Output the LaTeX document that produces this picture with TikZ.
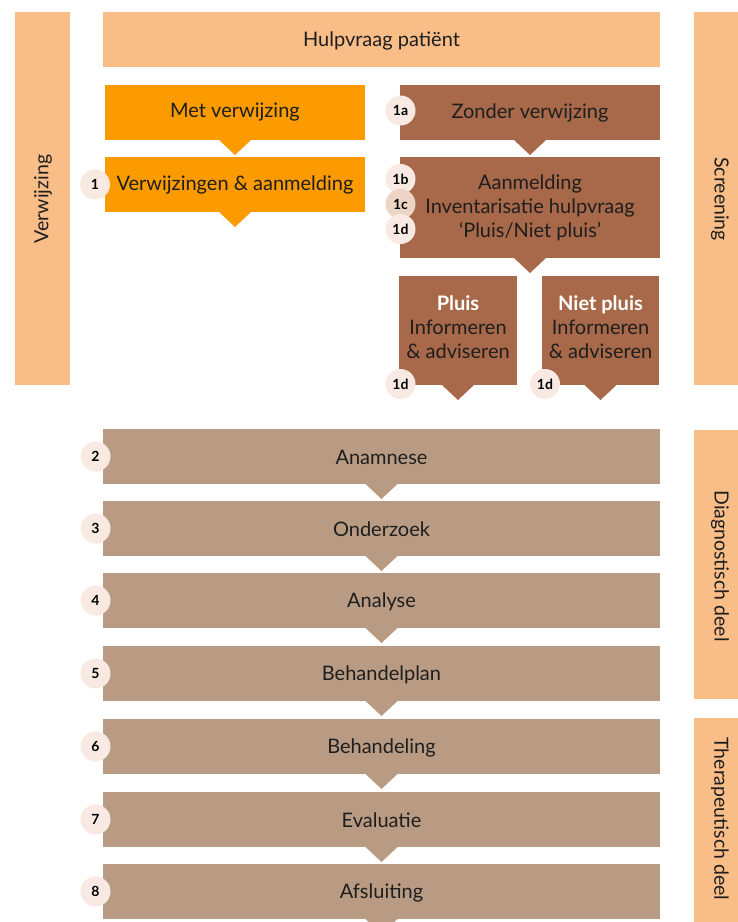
\documentclass[tikz,border=0pt]{standalone}
\usepackage{fontspec}
\setmainfont{Lato}
\definecolor{lightor}{HTML}{F9BE88}
\definecolor{brightor}{HTML}{FB9B00}
\definecolor{rust}{HTML}{A8694A}
\definecolor{taupe}{HTML}{B89B82}
\definecolor{badgec}{HTML}{F8EAE2}
\definecolor{badged}{HTML}{EDD5C6}
\definecolor{txt}{HTML}{1E1E1E}
\tikzset{
  box/.style={rectangle, inner sep=0pt, outer sep=0pt, text=txt, font=\fontsize{20}{24}\selectfont, align=center},
  boxtext/.style={inner sep=0pt, text=txt, font=\fontsize{20}{24}\selectfont, align=center},
  sidebar/.style={rectangle, inner sep=0pt, outer sep=0pt, fill=lightor},
  sidetext/.style={text=txt, font=\fontsize{19.5}{22}\selectfont},
  badge/.style={circle, fill=badgec, minimum size=30pt, inner sep=0pt, text=black, font=\bfseries\fontsize{14}{15}\selectfont}
}
\newcommand{\downtri}[2]{\fill[#2] ([xshift=-16pt]#1.south) -- ([xshift=16pt]#1.south) -- ([yshift=-15pt]#1.south) -- cycle;}
\begin{document}
\begin{tikzpicture}[x=1pt,y=-1pt]
\useasboundingbox (0,0) rectangle (738,922);
\fill[white] (0,0) rectangle (738,922);
% side bars
\node[sidebar, minimum width=55pt, minimum height=373pt] (barL) at (42.5,198.5) {};
\node[sidetext, rotate=90] (barLt) at (43,199) {Verwijzing};
\node[sidebar, minimum width=55pt, minimum height=373pt, anchor=north west] (barS) at (694,12) {};
\node[sidetext, rotate=-90] (barSt) at (720,199) {Screening};
\node[sidebar, minimum width=55pt, minimum height=269pt, anchor=north west] (barD) at (694,430) {};
\node[sidetext, rotate=-90] (barDt) at (720,566) {Diagnostisch deel};
\node[sidebar, minimum width=55pt, minimum height=204pt, anchor=north west] (barT) at (694,718) {};
\node[sidetext, rotate=-90] (barTt) at (720,819) {Therapeutisch deel};
% top
\node[box, fill=lightor, minimum width=557pt, minimum height=55pt] (hulp) at (381.5,39.5) {};
\node[boxtext] (hulpT) at (381.5,41) {Hulpvraag patiënt};
% left column
\node[box, fill=brightor, minimum width=260pt, minimum height=55pt] (met) at (235,112.5) {};
\node[boxtext] (metT) at (235,112.5) {Met verwijzing};
\downtri{met}{brightor}
\node[box, fill=brightor, minimum width=260pt, minimum height=55pt] (verw) at (235,184.5) {};
\node[boxtext] (verwT) at (235,185) {Verwijzingen \& aanmelding};
\downtri{verw}{brightor}
\node[badge] (b1) at (95,184.5) {1};
% right column
\node[box, fill=rust, minimum width=260pt, minimum height=55pt] (zonder) at (530,112.5) {};
\node[boxtext] (zonderT) at (530,112.5) {Zonder verwijzing};
\downtri{zonder}{rust}
\node[badge] (b1a) at (400.5,110.5) {1a};
\node[box, fill=rust, minimum width=260pt, minimum height=101pt] (aanm) at (530,207.5) {};
\node[boxtext] (aanmT) at (530,208) {Aanmelding\\Inventarisatie hulpvraag\\‘Pluis/Niet pluis’};
\downtri{aanm}{rust}
\node[badge] (b1b) at (400.5,179) {1b};
\node[badge, fill=badged] (b1c) at (400.5,204) {1c};
\node[badge] (b1d) at (400.5,229) {1d};
\node[box, fill=rust, minimum width=118pt, minimum height=109pt] (pluis) at (458,330.5) {};
\node[boxtext] (pluisT) at (458,327) {\textcolor{white}{\bfseries Pluis}\\Informeren\\\& adviseren};
\downtri{pluis}{rust}
\node[box, fill=rust, minimum width=117pt, minimum height=109pt] (niet) at (600.5,330.5) {};
\node[boxtext] (nietT) at (600.5,327) {\textcolor{white}{\bfseries Niet pluis}\\Informeren\\\& adviseren};
\downtri{niet}{rust}
\node[badge] (b1dp) at (400.5,384) {1d};
\node[badge] (b1dn) at (545,384) {1d};
% process rows
\foreach \nm/\lab/\num/\yy in {anam/Anamnese/2/456.5, onder/Onderzoek/3/528.5, analy/Analyse/4/600.5, bplan/Behandelplan/5/673.5, behan/Behandeling/6/746.5, evalu/Evaluatie/7/819.5, afsl/Afsluiting/8/891.5}{
  \node[box, fill=taupe, minimum width=557pt, minimum height=55pt] (\nm) at (381.5,\yy) {};
  \node[boxtext] (\nm T) at (381.5,\yy+1) {\lab};
  \downtri{\nm}{taupe}
  \node[badge] (b\num) at (95.5,\yy) {\num};
}
\end{tikzpicture}
\end{document}
